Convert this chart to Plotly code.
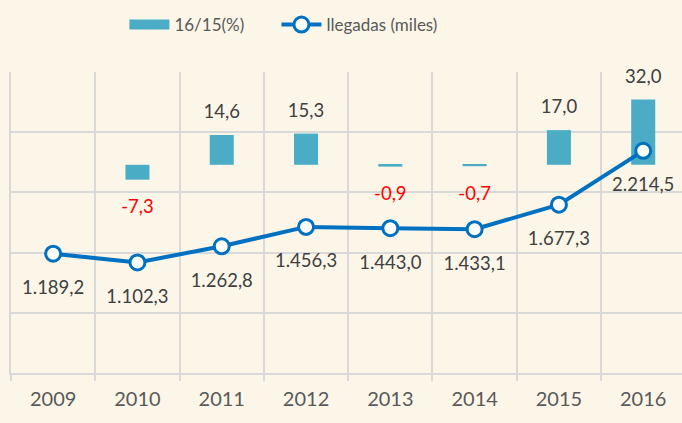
import plotly.graph_objects as go

years = ["2009", "2010", "2011", "2012", "2013", "2014", "2015", "2016"]
var_pct = [None, -7.3, 14.6, 15.3, -0.9, -0.7, 17.0, 32.0]
llegadas = [1189.2, 1102.3, 1262.8, 1456.3, 1443.0, 1433.1, 1677.3, 2214.5]

bar_name = "16/15(%)"
line_name = "llegadas (miles)"

BG = "#FCF6E9"
GRID = "#D9D9D9"
FONT = "Lato, Open Sans, sans-serif"


def fmt(v):
    s = f"{v:,.1f}"
    return s.replace(",", "X").replace(".", ",").replace("X", ".")


bar_x = [y for y, v in zip(years, var_pct) if v is not None]
bar_v = [v for v in var_pct if v is not None]

fig = go.Figure()

fig.add_trace(go.Bar(
    x=bar_x, y=bar_v, name=bar_name, yaxis="y", showlegend=False,
    marker=dict(color="#4BACC6", line=dict(width=0)),
    width=0.285, hoverinfo="skip",
))

# legend entry for the bars (wide rectangle swatch)
fig.add_trace(go.Scatter(
    x=[None], y=[None], name=bar_name, yaxis="y", mode="lines",
    line=dict(color="#4BACC6", width=14), legend="legend",
))

# bar labels
fig.add_trace(go.Scatter(
    x=bar_x, y=bar_v, yaxis="y", mode="markers+text", showlegend=False,
    text=[fmt(v) for v in bar_v],
    textposition=["top center" if v >= 0 else "bottom center" for v in bar_v],
    textfont=dict(family=FONT, size=18.5,
                  color=["#404040" if v >= 0 else "#FF0000" for v in bar_v]),
    marker=dict(size=[18 if v >= 0 else 30 for v in bar_v],
                color="rgba(0,0,0,0)", line=dict(width=0)),
    cliponaxis=False, hoverinfo="skip",
))

fig.add_trace(go.Scatter(
    x=years, y=llegadas, name=line_name, yaxis="y2", mode="lines+markers",
    line=dict(color="#0070C0", width=4),
    marker=dict(size=15, color="white", line=dict(color="#0070C0", width=3)),
    cliponaxis=False, legend="legend2",
))

# line labels
fig.add_trace(go.Scatter(
    x=years, y=llegadas, yaxis="y2", mode="markers+text", showlegend=False,
    text=[fmt(v) for v in llegadas], textposition="bottom center",
    textfont=dict(family=FONT, size=18.5, color="#404040"),
    marker=dict(size=41, color="rgba(0,0,0,0)", line=dict(width=0)),
    cliponaxis=False, hoverinfo="skip",
))

leg_common = dict(orientation="h", xanchor="left", y=1.156, yanchor="middle",
                  font=dict(size=17, color="#595959"), bgcolor="rgba(0,0,0,0)",
                  itemwidth=40)

fig.update_layout(
    width=682, height=423,
    margin=dict(l=11, r=0, t=72, b=50),
    paper_bgcolor=BG, plot_bgcolor=BG,
    font=dict(family=FONT, color="#595959"),
    showlegend=True,
    legend=dict(x=0.169, **leg_common),
    legend2=dict(x=0.3956, **leg_common),
    xaxis=dict(type="category", categoryorder="array", categoryarray=years,
               range=[-0.5, 7.46], tickson="boundaries",
               showgrid=True, gridcolor=GRID, gridwidth=1.5,
               showline=True, linecolor=GRID, linewidth=2,
               ticks="outside", ticklen=6, tickcolor=GRID, tickwidth=1.5,
               ticklabelstandoff=7,
               tickfont=dict(size=20, color="#595959")),
    yaxis=dict(range=[-102.1, 45.5], showgrid=False, zeroline=False,
               showticklabels=False, showline=True, linecolor=GRID, linewidth=1.5),
    yaxis2=dict(range=[0, 3000], dtick=600, overlaying="y", side="left",
                showgrid=True, gridcolor=GRID, gridwidth=1.5, zeroline=False,
                showticklabels=False),
)

fig.write_html("out.html", config={"displayModeBar": False},
               post_script="document.body.style.margin='0';document.body.style.overflow='hidden';")
